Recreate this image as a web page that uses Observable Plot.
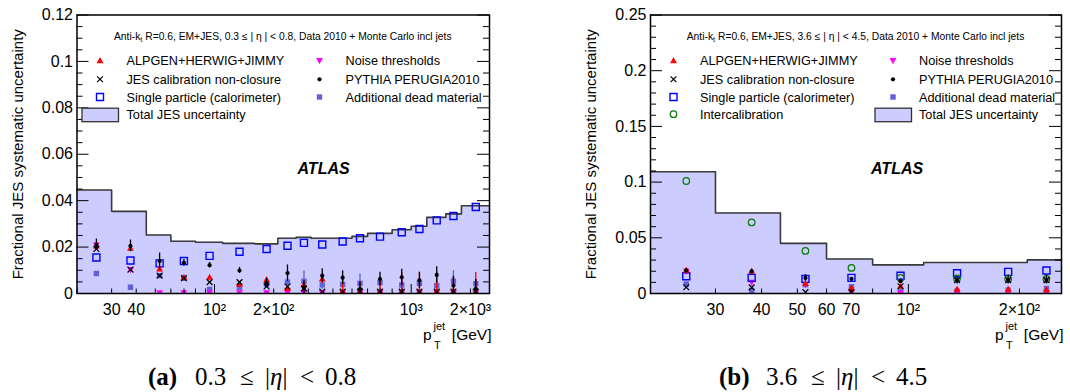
<!DOCTYPE html>
<html>
<head>
<meta charset="utf-8">
<script src="https://cdn.jsdelivr.net/npm/d3@7"></script>
<script src="https://cdn.jsdelivr.net/npm/@observablehq/plot@0.6"></script>
<style>
  body { margin: 0; background: #fff; }
  #fig { position: relative; width: 1070px; height: 392px; overflow: hidden; background: #fff; }
  .panel { position: absolute; top: 0; width: 535px; height: 352px; }
  .panel > svg { position: absolute; left: 0; top: 0; }
  .cap { position: absolute; top: 363.6px; white-space: nowrap;
         font-family: "Liberation Serif", "Times New Roman", serif; font-size: 25px; line-height: 25px; color: #000; }
  .cap.b { font-weight: bold; }
</style>
</head>
<body>
<div id="fig"></div>
<script>
// ---------- panel (a): 0.3 <= |eta| < 0.8 ----------
const ptA = [25.1, 37.4, 52.6, 69.9, 94.4, 134, 184, 235, 285, 353, 448, 549, 694, 895, 1101, 1348, 1639, 2129];
const edgesA = [20, 30, 45, 60, 80, 110, 160, 210, 260, 310, 400, 500, 600, 800, 1000, 1200, 1500, 1800, 2500];
const totalA = [0.0446, 0.0354, 0.0252, 0.0225, 0.0221, 0.0216, 0.0214, 0.0238, 0.0242, 0.0238, 0.0238, 0.0246, 0.0259, 0.0275, 0.0290, 0.0328, 0.0343, 0.0378];
const alpgenA = [0.0205, 0.0195, 0.0106, 0.0070, 0.0070, 0.0040, 0.0060, 0.0022, 0.0037, 0.0063, 0.0010, 0.0010, 0.0010, 0.0010, 0.0010, 0.0010, 0.0010, 0.0010];
const alpgenErrA = [0, 0, 0, 0, 0, 0, 0, 0, 0, 0.002, 0.006, 0.004, 0.006, 0.008, 0.008, 0.008, 0.006, 0.008];
const closureA = [0.0192, 0.0103, 0.0077, 0.0066, 0.0049, 0.0049, 0.0030, 0.0030, 0.0022, 0.0008, 0.0008, 0.0008, 0.0008, 0.0008, 0.0008, 0.0008, 0.0008, 0.0008];
const singleA = [0.0155, 0.0142, 0.0130, 0.0140, 0.0162, 0.0180, 0.0192, 0.0206, 0.0218, 0.0211, 0.0224, 0.0238, 0.0245, 0.0264, 0.0278, 0.0315, 0.0334, 0.0373];
const noiseA = [0.0210, 0.0103, 0.0003, 0.0003, 0.0003, 0.0003, 0.0003, 0.0003, 0.0003, 0.0003, 0.0003, 0.0003, 0.0003, 0.0003, 0.0003, 0.0003, 0.0003, 0.0003];
const pythiaA = [0.0210, 0.0205, 0.0140, 0.0132, 0.0122, 0.0099, 0.0045, 0.0088, 0.0025, 0.0077, 0.0068, 0.0020, 0.0062, 0.0070, 0.0057, 0.0080, 0.0034, 0.0020];
const pythiaErrA = [0.0025, 0.0025, 0.0035, 0.0015, 0.0012, 0.0013, 0.0020, 0.0035, 0.0030, 0.0030, 0.0030, 0.0030, 0.0030, 0.0035, 0.0035, 0.0035, 0.0040, 0.0040];
const deadA = [0.0086, 0.0027, 0.0077, 0.0066, 0.0017, 0.0027, 0.0039, 0.0049, 0.0053, 0.0037, 0.0039, 0.0044, 0.0047, 0.0037, 0.0044, 0.0034, 0.0053, 0.0042];
const deadErrA = [0, 0, 0.0006, 0.0005, 0, 0, 0.0010, 0.0015, 0.0045, 0.0020, 0.0020, 0.0040, 0.0025, 0.0020, 0.0020, 0.0020, 0.0045, 0.0020];

// ---------- panel (b): 3.6 <= |eta| < 4.5 ----------
const ptB = [25.0, 37.6, 52.6, 70.1, 95.2, 135.5, 186.4, 236.7];
const edgesB = [20, 30, 45, 60, 80, 110, 160, 210, 260];
const totalB = [0.1093, 0.0723, 0.0450, 0.0310, 0.0257, 0.0278, 0.0278, 0.0302];
const alpgenB = [0.0210, 0.0200, 0.0090, 0.0050, 0.0065, 0.0040, 0.0040, 0.0035];
const closureB = [0.0056, 0.0055, 0.0012, 0.0012, 0.0065, 0.0120, 0.0120, 0.0120];
const singleB = [0.0155, 0.0140, 0.0131, 0.0140, 0.0160, 0.0182, 0.0194, 0.0206];
const interB = [0.1010, 0.0638, 0.0382, 0.0230, 0.0140, 0.0135, 0.0130, 0.0130];
const noiseB = [0.0200, 0.0100, 0.0080, 0.0005, 0.0005, 0.0005, 0.0005, 0.0005];
const pythiaB = [0.0208, 0.0198, 0.0140, 0.0131, 0.0110, 0.0116, 0.0125, 0.0125];
const pythiaErrB = [0.0010, 0.0010, 0.0030, 0.0010, 0.0020, 0.0030, 0.0040, 0.0040];
const deadB = [0.0085, 0.0027, 0.0080, 0.0060, 0.0015, 0.0020, 0.0030, 0.0045];

// ---------- axes ----------
const yTicksA = [0, 0.02, 0.04, 0.06, 0.08, 0.1, 0.12];
const yTickLabelsA = ["0", "0.02", "0.04", "0.06", "0.08", "0.1", "0.12"];
const yTicksB = [0, 0.05, 0.1, 0.15, 0.2, 0.25];
const yTickLabelsB = ["0", "0.05", "0.1", "0.15", "0.2", "0.25"];
const xTicksA = [30, 40, 100, 200, 1000, 2000];
const xTickLabelsA = ["30", "40", "10²", "2×10²", "10³", "2×10³"];
const xTicksB = [30, 40, 50, 60, 70, 100, 200];
const xTickLabelsB = ["30", "40", "50", "60", "70", "10²", "2×10²"];

const SANS = '"Liberation Sans", Arial, Helvetica, sans-serif';

// marker shapes; r is the half-size in pixels
const shape = (fn) => ({ draw(ctx, size) { fn(ctx, Math.sqrt(size / Math.PI)); } });
const SYM = {
  triUp: shape((c, r) => { c.moveTo(0, -r); c.lineTo(r * 0.95, r * 0.72); c.lineTo(-r * 0.95, r * 0.72); c.closePath(); }),
  triDown: shape((c, r) => { c.moveTo(0, r); c.lineTo(r * 0.95, -r * 0.72); c.lineTo(-r * 0.95, -r * 0.72); c.closePath(); }),
  cross: shape((c, r) => { c.moveTo(-r, -r); c.lineTo(r, r); c.moveTo(-r, r); c.lineTo(r, -r); }),
  square: shape((c, r) => { c.rect(-r, -r, 2 * r, 2 * r); }),
  circle: shape((c, r) => { c.moveTo(r, 0); c.arc(0, 0, r, 0, 2 * Math.PI); })
};

const SERIES = {
  alpgen:  { label: "ALPGEN+HERWIG+JIMMY", symbol: SYM.triUp, r: 3.6, fill: "#ff0000", stroke: "none", sw: 1 },
  closure: { label: "JES calibration non-closure", symbol: SYM.cross, r: 2.9, fill: "none", stroke: "#000", sw: 1.2 },
  single:  { label: "Single particle (calorimeter)", symbol: SYM.square, r: 3.5, fill: "none", stroke: "#0000ff", sw: 1.4 },
  inter:   { label: "Intercalibration", symbol: SYM.circle, r: 3.3, fill: "none", stroke: "#0a7a0a", sw: 1.2 },
  noise:   { label: "Noise thresholds", symbol: SYM.triDown, r: 3.6, fill: "#ff00ff", stroke: "none", sw: 1 },
  pythia:  { label: "PYTHIA PERUGIA2010", symbol: SYM.circle, r: 2.1, fill: "#000", stroke: "none", sw: 1 },
  dead:    { label: "Additional dead material", symbol: SYM.square, r: 2.7, fill: "#6262d6", stroke: "none", sw: 1 }
};

function seriesMarks(pt, values, key, errors, errColor) {
  const s = SERIES[key];
  const rows = pt.map((x, i) => ({ x, v: values[i], e: errors ? errors[i] : 0 }));
  const marks = [];
  if (errors) {
    marks.push(Plot.ruleX(rows.filter(d => d.e > 0), {
      x: "x", y1: d => d.v - d.e, y2: d => d.v + d.e, stroke: errColor, strokeWidth: 1.3, clip: true
    }));
  }
  marks.push(Plot.dot(rows, {
    x: "x", y: "v", symbol: s.symbol, r: s.r, fill: s.fill, stroke: s.stroke, strokeWidth: s.sw, clip: true
  }));
  return marks;
}

function logMinor(domain, majors) {
  const out = [];
  for (let dec = 10; dec <= domain[1]; dec *= 10)
    for (let k = 1; k <= 9; k++) {
      const v = k * dec;
      if (v >= domain[0] && v <= domain[1] && !majors.includes(v)) out.push(v);
    }
  return out;
}

function drawPanel(cfg) {
  const W = 535, H = 352, top = 14.5, bottom = 293;
  const fw = W - cfg.ml - cfg.mr, fh = bottom - top;
  const steps = cfg.edges.map((e, i) => ({ x: e, y: cfg.total[Math.min(i, cfg.total.length - 1)] }));
  const yLab = new Map(cfg.yTicks.map((v, i) => [v, cfg.yTickLabels[i]]));
  const yMinor = d3.range(0, cfg.yDomain[1] + 1e-9, cfg.yMinorStep)
    .filter(v => !cfg.yTicks.some(t => Math.abs(t - v) < 1e-9));
  const xMajor = cfg.xMajor;
  const xMinor = logMinor(cfg.xDomain, xMajor);

  return Plot.plot({
    width: W, height: H,
    marginLeft: cfg.ml, marginRight: cfg.mr, marginTop: top, marginBottom: H - bottom,
    x: { type: "log", domain: cfg.xDomain, axis: null },
    y: { domain: cfg.yDomain },
    style: { fontFamily: SANS, fontSize: "16px", background: "transparent", overflow: "visible" },
    marks: [
      Plot.areaY(steps, { x: "x", y: "y", curve: "step-after", fill: "#ccccff" }),
      Plot.lineY(steps, { x: "x", y: "y", curve: "step-after", stroke: "#3a3a3a", strokeWidth: 1.6 }),
      ...cfg.series,
      // inward ticks on the left, right and bottom edges
      Plot.tickY(cfg.yTicks, { y: d => d, insetRight: fw - 12, stroke: "#000" }),
      Plot.tickY(cfg.yTicks, { y: d => d, insetLeft: fw - 12, stroke: "#000" }),
      Plot.tickY(yMinor, { y: d => d, insetRight: fw - 6, stroke: "#000" }),
      Plot.tickY(yMinor, { y: d => d, insetLeft: fw - 6, stroke: "#000" }),
      Plot.tickX(xMajor, { x: d => d, insetTop: fh - 9, stroke: "#000" }),
      Plot.tickX(xMinor, { x: d => d, insetTop: fh - 4.5, stroke: "#000" }),
      Plot.frame({ stroke: "#000", strokeWidth: 1.5 }),
      Plot.axisY(cfg.yTicks, { tickSize: 0, tickPadding: 4, tickFormat: d => yLab.get(d), fontSize: 16, label: null }),
      // x tick labels under the frame
      Plot.text(cfg.xTicks, {
        x: d => d, text: (d, i) => cfg.xTickLabels[i], frameAnchor: "bottom", dy: 10,
        lineAnchor: "top", textAnchor: "middle", fontSize: 16
      }),
      Plot.text(["Fractional JES systematic uncertainty"], {
        text: d => d, frameAnchor: "left", rotate: -90, dx: -59, textAnchor: "middle", lineAnchor: "middle", fontSize: 15
      }),
      Plot.text(["ATLAS"], {
        text: d => d, frameAnchor: "top-left", dx: 220.5, dy: 158.8, textAnchor: "start", lineAnchor: "bottom",
        fontSize: 16, fontWeight: "bold", fontStyle: "italic"
      }),
      // x-axis title: p_T^jet [GeV]
      Plot.text(["[GeV]"], { text: d => d, frameAnchor: "bottom-right", dx: 2, dy: 46, textAnchor: "end", lineAnchor: "bottom", fontSize: 15.5 }),
      Plot.text(["p"], { text: d => d, frameAnchor: "bottom-right", dx: -58, dy: 46, textAnchor: "end", lineAnchor: "bottom", fontSize: 15.5 }),
      Plot.text(["jet"], { text: d => d, frameAnchor: "bottom-right", dx: -56, dy: 36, textAnchor: "start", lineAnchor: "bottom", fontSize: 11 }),
      Plot.text(["T"], { text: d => d, frameAnchor: "bottom-right", dx: -55.5, dy: 55, textAnchor: "start", lineAnchor: "bottom", fontSize: 11 })
    ]
  });
}

// legend and header line drawn on top of a panel
function overlay(cfg) {
  const svg = d3.create("svg").attr("width", 535).attr("height", 352)
    .style("position", "absolute").style("left", 0).style("top", 0)
    .style("overflow", "visible").style("pointer-events", "none")
    .attr("font-family", SANS);
  const fl = cfg.ml, fr = 535 - cfg.mr;
  const t = svg.append("text").attr("x", (fl + fr) / 2).attr("y", 39.5)
    .attr("text-anchor", "middle").attr("font-size", 10.3);
  t.append("tspan").text("Anti-k");
  t.append("tspan").attr("font-size", 7.3).attr("dy", 2.5).text("t");
  t.append("tspan").attr("dy", -2.5).text(cfg.header);

  const rowsY = [60.6, 79.3, 97, 114.2];
  const colMarker = [fl + 23.5, fl + 243];
  const colText = [fl + 50, fl + 269];
  cfg.legend.forEach(item => {
    const y = rowsY[item.row];
    if (item.key === "total") {
      svg.append("rect").attr("x", colMarker[item.col] - 18).attr("y", y - 6)
        .attr("width", 36.5).attr("height", 13.5)
        .attr("fill", "#ccccff").attr("stroke", "#333").attr("stroke-width", 1.3);
    } else {
      const s = SERIES[item.key];
      const p = d3.path();
      s.symbol.draw(p, Math.PI * s.r * s.r);
      svg.append("path").attr("d", p.toString()).attr("transform", `translate(${colMarker[item.col]},${y})`)
        .attr("fill", s.fill).attr("stroke", s.stroke).attr("stroke-width", s.sw);
    }
    svg.append("text").attr("x", colText[item.col]).attr("y", y + 4.6)
      .attr("font-size", 12.7).text(item.label ?? SERIES[item.key].label);
  });
  return svg.node();
}

const fig = d3.select("#fig");

// panel (a)
const cfgA = {
  ml: 76.5, mr: 46,
  xDomain: [20, 2500], yDomain: [0, 0.12], yMinorStep: 0.005,
  edges: edgesA, total: totalA,
  yTicks: yTicksA, yTickLabels: yTickLabelsA, xTicks: xTicksA, xTickLabels: xTickLabelsA, xMajor: [100, 1000],
  header: " R=0.6, EM+JES, 0.3 \u2264 | \u03b7 | < 0.8, Data 2010 + Monte Carlo incl jets",
  series: [
    ...seriesMarks(ptA, deadA, "dead", deadErrA, "#6262d6"),
    ...seriesMarks(ptA, noiseA, "noise"),
    ...seriesMarks(ptA, singleA, "single"),
    ...seriesMarks(ptA, alpgenA, "alpgen", alpgenErrA, "#ff0000"),
    ...seriesMarks(ptA, closureA, "closure"),
    ...seriesMarks(ptA, pythiaA, "pythia", pythiaErrA, "#000")
  ],
  legend: [
    { key: "alpgen", row: 0, col: 0 }, { key: "closure", row: 1, col: 0 },
    { key: "single", row: 2, col: 0 }, { key: "total", row: 3, col: 0, label: "Total JES uncertainty" },
    { key: "noise", row: 0, col: 1 }, { key: "pythia", row: 1, col: 1 }, { key: "dead", row: 2, col: 1 }
  ]
};

// panel (b)
const cfgB = {
  ml: 115, mr: 9,
  xDomain: [20, 260], yDomain: [0, 0.25], yMinorStep: 0.01,
  edges: edgesB, total: totalB,
  yTicks: yTicksB, yTickLabels: yTickLabelsB, xTicks: xTicksB, xTickLabels: xTickLabelsB, xMajor: [100],
  header: " R=0.6, EM+JES, 3.6 \u2264 | \u03b7 | < 4.5, Data 2010 + Monte Carlo incl jets",
  series: [
    ...seriesMarks(ptB, deadB, "dead"),
    ...seriesMarks(ptB, noiseB, "noise"),
    ...seriesMarks(ptB, singleB, "single"),
    ...seriesMarks(ptB, interB, "inter"),
    ...seriesMarks(ptB, alpgenB, "alpgen"),
    ...seriesMarks(ptB, closureB, "closure"),
    ...seriesMarks(ptB, pythiaB, "pythia", pythiaErrB, "#000")
  ],
  legend: [
    { key: "alpgen", row: 0, col: 0 }, { key: "closure", row: 1, col: 0 },
    { key: "single", row: 2, col: 0 }, { key: "inter", row: 3, col: 0 },
    { key: "noise", row: 0, col: 1 }, { key: "pythia", row: 1, col: 1 }, { key: "dead", row: 2, col: 1 },
    { key: "total", row: 3, col: 1, label: "Total JES uncertainty" }
  ]
};

[[cfgA, 0], [cfgB, 535]].forEach(([cfg, left]) => {
  const div = fig.append("div").attr("class", "panel").style("left", left + "px");
  div.node().appendChild(drawPanel(cfg));
  div.node().appendChild(overlay(cfg));
});

// sub-figure captions, set piece by piece with math-style spacing
function caption(x0, tag, lo, hi) {
  const parts = [
    { dx: 0, html: tag, cls: "cap b" },
    { dx: 47, html: lo, cls: "cap" },
    { dx: 92, html: "\u2264", cls: "cap" },
    { dx: 117, html: "|<i>\u03b7</i>|", cls: "cap" },
    { dx: 152, html: "&lt;", cls: "cap" },
    { dx: 177, html: hi, cls: "cap" }
  ];
  parts.forEach(p => fig.append("div").attr("class", p.cls).style("left", (x0 + p.dx) + "px").html(p.html));
}
caption(148, "(a)", "0.3", "0.8");
caption(719, "(b)", "3.6", "4.5");
</script>
</body>
</html>
